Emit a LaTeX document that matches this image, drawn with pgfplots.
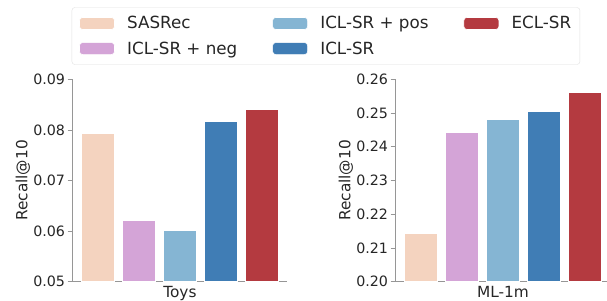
\documentclass[border=0pt]{standalone}
\usepackage{pgfplots}
\pgfplotsset{compat=1.18}
\usepackage{fontspec}
\setmainfont{DejaVu Sans}
\definecolor{cA}{RGB}{244,211,191}
\definecolor{cB}{RGB}{212,164,215}
\definecolor{cC}{RGB}{133,181,211}
\definecolor{cD}{RGB}{64,125,181}
\definecolor{cE}{RGB}{180,58,64}
\definecolor{spine}{RGB}{150,150,150}
\begin{document}
\begin{tikzpicture}[x=1bp,y=1bp]
\useasboundingbox (0,0) rectangle (607,300);
\pgfplotsset{
  myax/.style={
    scale only axis, width=215bp, height=202.4bp, anchor=south west,
    axis x line=bottom, axis y line=left,
    axis line style={-, draw=spine, line width=1bp},
    xmin=-0.63, xmax=4.61,
    xtick={2}, x tick style={draw=none},
    ytick style={draw=spine, line width=0.8bp},
    tick align=outside, major tick length=4.5bp,
    scaled y ticks=false,
    ybar, bar width=0.79, bar shift=0pt,
    /pgf/number format/assume math mode=true,
    yticklabel style={/pgf/number format/fixed, /pgf/number format/precision=2, /pgf/number format/fixed zerofill, font=\fontsize{14.3}{16}\selectfont, text=black!85, xshift=1bp},
    xticklabel style={font=\fontsize{15.4}{17}\selectfont, text=black!85, yshift=3.5bp},
    every axis y label/.style={at={(axis description cs:-0.228,0.5)}, rotate=90, anchor=center, font=\fontsize{15.4}{17}\selectfont, text=black!85},
    ylabel={Recall@10},
    every axis plot/.append style={draw=white, line width=0.6bp},
  },
}
\begin{axis}[myax, at={(72bp,18.3bp)},
  ymin=0.05, ymax=0.09, ytick={0.05,0.06,0.07,0.08,0.09},
  xticklabels={Toys},
  legend columns=3,
  legend image code/.code={\fill[#1] (0bp,-6bp) rectangle (35bp,6bp);},
  legend style={at={(-0.0014,1.3557)}, anchor=north west, draw=black!12, rounded corners=3bp, fill=white,
    font=\fontsize{16.8}{20}\selectfont, nodes={font=\fontsize{16.8}{20}\selectfont, inner xsep=1.5bp}, text=black!85, legend cell align=left,
    row sep=7.2bp, inner xsep=7.3bp, inner ysep=7bp,
    /tikz/every odd column/.append style={column sep=10.9bp},
    /tikz/every even column/.append style={column sep=33.5bp}},
]
\addlegendimage{fill=cA}
\addlegendimage{fill=cC}
\addlegendimage{fill=cE}
\addlegendimage{fill=cB}
\addlegendimage{fill=cD}
\legend{SASRec, ICL-SR + pos, ECL-SR, ICL-SR + neg, ICL-SR}
\addplot[fill=cA, forget plot] coordinates {(0,0.0794)};
\addplot[fill=cB, forget plot] coordinates {(1,0.0621)};
\addplot[fill=cC, forget plot] coordinates {(2,0.0601)};
\addplot[fill=cD, forget plot] coordinates {(3,0.0817)};
\addplot[fill=cE, forget plot] coordinates {(4,0.0841)};
\end{axis}
\begin{axis}[myax, at={(395bp,18.3bp)},
  ymin=0.20, ymax=0.26, ytick={0.20,0.21,0.22,0.23,0.24,0.25,0.26},
  xticklabels={ML-1m},
]
\addplot[fill=cA] coordinates {(0,0.2143)};
\addplot[fill=cB] coordinates {(1,0.2442)};
\addplot[fill=cC] coordinates {(2,0.2482)};
\addplot[fill=cD] coordinates {(3,0.2506)};
\addplot[fill=cE] coordinates {(4,0.2562)};
\end{axis}
\end{tikzpicture}
\end{document}
